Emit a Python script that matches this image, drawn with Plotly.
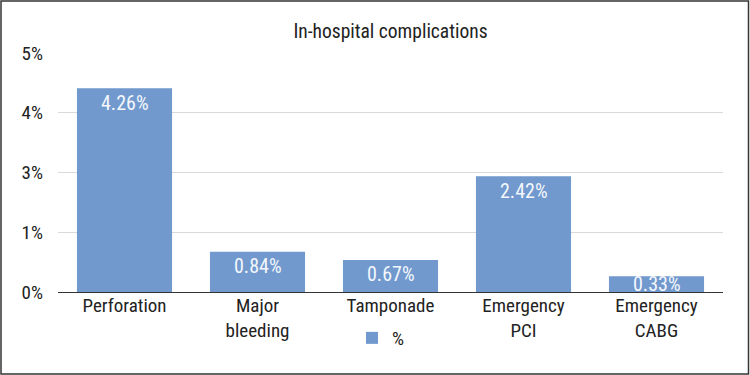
import plotly.graph_objects as go

categories = ["Perforation", "Major<br>bleeding", "Tamponade", "Emergency<br>PCI", "Emergency<br>CABG"]
values = [4.26, 0.84, 0.67, 2.42, 0.33]
value_labels = ["4.26%", "0.84%", "0.67%", "2.42%", "0.33%"]
tick_vals = [0, 1.25, 2.5, 3.75, 5]
tick_text = ["0%", "1%", "3%", "4%", "5%"]
series_name = "%"
title_text = "In-hospital complications"

W, H = 750, 375
ML, MR, MT, MB = 58, 27, 53, 83
FONT = "Liberation Sans Narrow, Roboto Condensed, Arial Narrow, Roboto, sans-serif"
BAR = "#7199cd"
Y_MAX = 5
PLOT_H = H - MT - MB

def px_x(p):
    return (p - ML) / (W - ML - MR)

def px_y(p):
    return 1 - (p - MT) / PLOT_H

fig = go.Figure()
fig.add_trace(go.Bar(
    x=categories, y=values, name=series_name,
    marker=dict(color=BAR, line=dict(width=0)),
    hoverinfo="x+y",
    showlegend=True,
))

# value labels inside bars, near the top (centred in bar when the bar is short)
label_offset = 14.5 * Y_MAX / PLOT_H
annotations = []
for c, v, t in zip(categories, values, value_labels):
    annotations.append(dict(
        x=c, y=max(v - label_offset, v / 2), xref="x", yref="y",
        text=t, showarrow=False, yanchor="middle", xanchor="center",
        font=dict(color="#f4f7fc", size=20, family=FONT),
    ))

fig.update_layout(
    width=W, height=H,
    margin=dict(l=ML, r=MR, t=MT, b=MB),
    paper_bgcolor="white", plot_bgcolor="white",
    font=dict(family=FONT, color="#222222", size=19),
    bargap=0.285,
    title=dict(text=title_text, x=0.5, xanchor="center", xref="paper",
               y=1 - 31 / H, yanchor="middle",
               font=dict(size=19.5, family=FONT, color="#222222")),
    xaxis=dict(showgrid=False, showline=True, linecolor="#333333", linewidth=1.3,
               ticks="", ticklabelstandoff=-4,
               tickfont=dict(size=19, family=FONT, color="#222222"),
               fixedrange=True),
    yaxis=dict(range=[0, Y_MAX], tickmode="array", tickvals=tick_vals, ticktext=tick_text,
               showgrid=True, gridcolor="#d9d9d9", gridwidth=1, zeroline=False,
               showline=False, ticks="", ticklabelstandoff=14,
               tickfont=dict(size=19, family=FONT, color="#222222"),
               fixedrange=True),
    legend=dict(orientation="h", x=px_x(381), xanchor="center", y=px_y(338), yanchor="middle",
                font=dict(size=19, family=FONT, color="#222222"),
                itemwidth=30, bgcolor="rgba(0,0,0,0)"),
    annotations=annotations,
    shapes=[dict(type="rect", xref="paper", yref="paper",
                 x0=px_x(1), x1=px_x(748.5), y0=px_y(374), y1=px_y(1),
                 line=dict(color="#333333", width=1.5), fillcolor="rgba(0,0,0,0)",
                 layer="above")],
)

fig.write_html("out.html", config={"displayModeBar": False},
               post_script="document.body.style.margin='0';document.body.style.overflow='hidden';")
